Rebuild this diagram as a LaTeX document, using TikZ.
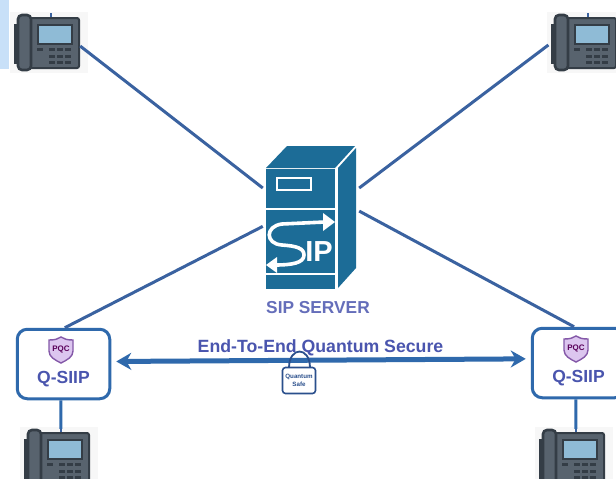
\documentclass[tikz,border=0pt]{standalone}
\usepackage{fontspec}
\setmainfont{Liberation Sans}
\usetikzlibrary{arrows.meta}

\definecolor{stripblue}{HTML}{C8E0F8}
\definecolor{linkblue}{HTML}{3A62A0}
\definecolor{boxblue}{HTML}{2F69AC}
\definecolor{srvblue}{HTML}{1C6C97}
\definecolor{labelblue}{HTML}{4A55AE}
\definecolor{lockblue}{HTML}{2A4F8C}
\definecolor{phonedark}{HTML}{343D46}
\definecolor{phonebody}{HTML}{58636E}
\definecolor{phonescreen}{HTML}{8FBBD6}
\definecolor{shieldfill}{HTML}{DCC6EF}
\definecolor{shieldline}{HTML}{8458A8}

\tikzset{
  link/.style={draw=linkblue, line width=3pt},
  drop/.style={draw=boxblue, line width=3pt},
  qbox/.style={draw=boxblue, line width=3pt, fill=white, rounded corners=10pt, minimum width=92.5pt, minimum height=69.5pt, inner sep=0pt},
  qlabel/.style={text=labelblue, font=\bfseries\fontsize{17.5}{18}\selectfont, inner sep=0pt},
  phone/.pic={
    \fill[black!3] (-37,-30) rectangle (41,31);
    \node[minimum width=66pt, minimum height=56pt, inner sep=0pt] (box) at (0,0) {};
    \fill[linkblue] (3,-29) rectangle (5,-25);
    \fill[phonedark] (-33,-18) rectangle (-28,22);
    \fill[phonebody, draw=phonedark, line width=2pt, rounded corners=2pt] (-18,-24) rectangle (32,26);
    \fill[phonebody, draw=phonedark, line width=2.6pt, rounded corners=4pt] (-29,-27) rectangle (-16,28);
    \fill[phonescreen, draw=phonedark, line width=1.6pt] (-9,-17) rectangle (25,2);
    \fill[phonedark] (-10,6) rectangle (-4,9);
    \foreach \kx in {2,10,18} \foreach \ky in {6,13,19}
      \fill[phonedark] (\kx,\ky) rectangle +(6,3);
  },
  shield/.pic={
    \draw[fill=shieldfill, draw=shieldline, line width=1.4pt] (-12,-10) .. controls (-6,-10) and (-3,-11) .. (0,-13) .. controls (3,-11) and (6,-10) .. (12,-10) -- (12,1) .. controls (12,7) and (6,10) .. (0,13) .. controls (-6,10) and (-12,7) .. (-12,1) -- cycle;
    \node[text=violet!70!black, font=\bfseries\fontsize{8}{9}\selectfont, inner sep=0pt] (tag) at (0,-0.5) {PQC};
  }
}

\begin{document}
\begin{tikzpicture}[x=1pt, y=-1pt]
\clip (0,0) rectangle (616,479);
\fill[white] (0,0) rectangle (616,479);
\fill[stripblue] (0,0) rectangle (9,69);

\pic (tl) at (47,42) {phone};
\pic (tr) at (584,42) {phone};
\pic (bl) at (57,457) {phone};
\pic (br) at (572,457) {phone};

\node[minimum width=96pt, minimum height=142pt, inner sep=0pt] (server) at (311,217) {};
\fill[srvblue] (266,168) -- (287,146) -- (355,146) -- (335,168) -- cycle;
\fill[srvblue] (338,168) -- (356,148) -- (356,268) -- (338,288) -- cycle;
\fill[srvblue] (266,169) rectangle (335,208);
\fill[srvblue] (266,210) rectangle (335,273);
\fill[srvblue] (266,275) rectangle (335,289);
\draw[white, line width=1.3pt] (277,178) rectangle (311,190);
\draw[white, line width=3.6pt] (325,222) -- (282,224) .. controls (265,226) and (265,244) .. (282,245) .. controls (296,246) and (304,248) .. (304,255) .. controls (304,263) and (292,265) .. (275,265);
\fill[white] (323,213) -- (335,222) -- (323,231) -- cycle;
\fill[white] (277,257) -- (266,265) -- (277,273) -- cycle;
\node[text=white, font=\bfseries\fontsize{29}{30}\selectfont, inner sep=0pt] (siptxt) at (319,252) {IP};
\node[text=labelblue!85!white, font=\bfseries\fontsize{17.3}{18}\selectfont, inner sep=0pt] (srvlabel) at (318,308) {SIP SERVER};

\node[qbox] (lq) at (63.5,364) {};
\node[qbox] (rq) at (578.5,363) {};
\pic (ls) at (61,350) {shield};
\pic (rs) at (576,349) {shield};
\node[qlabel] (lqt) at (63.5,379) {Q-SIIP};
\node[qlabel] (rqt) at (578.5,378) {Q-SIIP};

\draw[link] (tlbox.-7) -- (server.149);
\draw[link, shorten <=3pt] (trbox.182) -- (server.31);
\draw[link] (lq.88) -- (server.191);
\draw[link] (rq.97) -- (server.7);
\draw[drop] (lq.266) -- (blbox.82);
\draw[drop] (rq.266) -- (brbox.82);

\draw[draw=boxblue, line width=5pt, {Stealth[length=15pt,width=17pt]}-{Stealth[length=15pt,width=17pt]}, shorten <=5pt, shorten >=5pt] (lq.3.6) -- (rq.175.2);

\node[text=labelblue, font=\bfseries\fontsize{17.7}{18}\selectfont, inner sep=0pt] (e2e) at (320.5,347.5) {End-To-End Quantum Secure};

\draw[draw=lockblue, line width=1.8pt] (289,368) .. controls (289,346) and (310,346) .. (310,368);
\node[draw=lockblue, line width=1.6pt, fill=white, rounded corners=3pt, minimum width=33pt, minimum height=26pt, inner sep=0pt, align=center, text=lockblue, font=\bfseries\fontsize{6.2}{8}\selectfont] (lock) at (299,380.5) {Quantum\\Safe};
\end{tikzpicture}
\end{document}
